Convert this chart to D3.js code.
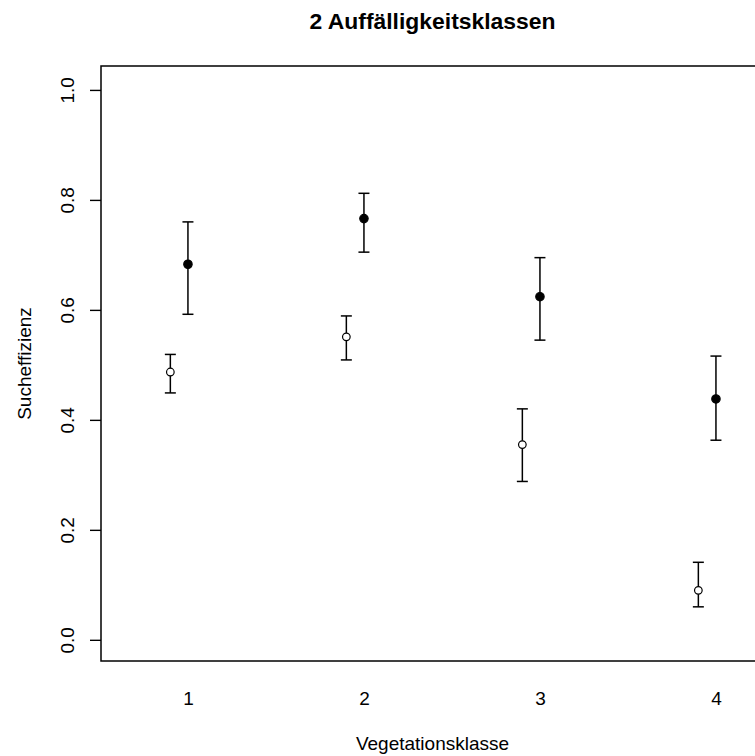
<!DOCTYPE html>
<html>
<head>
<meta charset="utf-8">
<script src="https://cdn.jsdelivr.net/npm/d3@7"></script>
<style>
  html, body { margin: 0; padding: 0; background: #fff; }
  svg { display: block; }
  text { font-family: "Liberation Sans", Arial, sans-serif; fill: #000; }
</style>
</head>
<body>
<svg id="chart" width="755" height="756"></svg>
<script>
// ---- data ----
const categories = [1, 2, 3, 4];
const xTickLabels = ["1", "2", "3", "4"];
const yTicks = [0.0, 0.2, 0.4, 0.6, 0.8, 1.0];

// filled points (offset 0)
const filledMean  = [0.683, 0.766, 0.624, 0.438];
const filledUpper = [0.760, 0.812, 0.695, 0.516];
const filledLower = [0.592, 0.705, 0.545, 0.363];

// open points (offset -0.1)
const openMean  = [0.487, 0.551, 0.355, 0.090];
const openUpper = [0.519, 0.589, 0.420, 0.141];
const openLower = [0.449, 0.509, 0.288, 0.060];

const titleText = "2 Auffälligkeitsklassen";
const xLabel = "Vegetationsklasse";
const yLabel = "Sucheffizienz";

// ---- layout ----
const plotLeft = 101, plotRight = 764, plotTop = 66, plotBottom = 661;

const svg = d3.select("#chart");

const x = d3.scaleLinear().domain([0.506, 4.273]).range([plotLeft, plotRight]);
const y = d3.scaleLinear().domain([-0.0385, 1.0435]).range([plotBottom, plotTop]);

// plot box
svg.append("rect")
  .attr("x", plotLeft).attr("y", plotTop)
  .attr("width", plotRight - plotLeft).attr("height", plotBottom - plotTop)
  .attr("fill", "none").attr("stroke", "#000").attr("stroke-width", 1.5);

// y axis
const yAxis = d3.axisLeft(y).tickValues(yTicks).tickSize(11).tickFormat(d3.format(".1f"));
const gy = svg.append("g").attr("transform", `translate(${plotLeft},0)`).call(yAxis);
gy.select(".domain").remove();
gy.selectAll(".tick line").attr("stroke", "#000").attr("stroke-width", 1.4);
gy.selectAll(".tick text")
  .attr("x", null).attr("dy", null)
  .attr("transform", "translate(-27,0) rotate(-90)")
  .attr("text-anchor", "middle")
  .style("font-size", "19px")
  .style("font-family", "Liberation Sans, Arial, sans-serif")
  .attr("fill", "#000");

// x axis (labels only)
const xAxis = d3.axisBottom(x).tickValues(categories).tickSize(0)
  .tickFormat((d, i) => xTickLabels[i]);
const gx = svg.append("g").attr("transform", `translate(0,${plotBottom})`).call(xAxis);
gx.select(".domain").remove();
gx.selectAll(".tick text")
  .attr("y", 44).attr("dy", null)
  .style("font-size", "19px")
  .style("font-family", "Liberation Sans, Arial, sans-serif")
  .attr("fill", "#000");

// title & labels
svg.append("text")
  .attr("x", (plotLeft + plotRight) / 2).attr("y", 29)
  .attr("text-anchor", "middle")
  .style("font-size", "22.9px").style("font-weight", "bold")
  .text(titleText);

svg.append("text")
  .attr("x", (plotLeft + plotRight) / 2).attr("y", 750)
  .attr("text-anchor", "middle")
  .style("font-size", "19px")
  .text(xLabel);

svg.append("text")
  .attr("transform", `translate(31,${(plotTop + plotBottom) / 2}) rotate(-90)`)
  .attr("text-anchor", "middle")
  .style("font-size", "19px")
  .text(yLabel);

// error bars + points
function drawSeries(offset, mean, lo, hi, filled) {
  const g = svg.append("g");
  const data = categories.map((c, i) => ({ c: c + offset, m: mean[i], lo: lo[i], hi: hi[i] }));
  g.selectAll("line.v").data(data).enter().append("line")
    .attr("x1", d => x(d.c)).attr("x2", d => x(d.c))
    .attr("y1", d => y(d.lo)).attr("y2", d => y(d.hi))
    .attr("stroke", "#000").attr("stroke-width", 1.5);
  ["lo", "hi"].forEach(k => {
    g.selectAll("line.cap" + k).data(data).enter().append("line")
      .attr("x1", d => x(d.c) - 5.5).attr("x2", d => x(d.c) + 5.5)
      .attr("y1", d => y(d[k])).attr("y2", d => y(d[k]))
      .attr("stroke", "#000").attr("stroke-width", 1.5);
  });
  g.selectAll("circle").data(data).enter().append("circle")
    .attr("cx", d => x(d.c)).attr("cy", d => y(d.m))
    .attr("r", filled ? 4.2 : 3.8)
    .attr("fill", filled ? "#000" : "#fff")
    .attr("stroke", "#000").attr("stroke-width", 1.2);
}
drawSeries(-0.1, openMean, openLower, openUpper, false);
drawSeries(0, filledMean, filledLower, filledUpper, true);
</script>
</body>
</html>
